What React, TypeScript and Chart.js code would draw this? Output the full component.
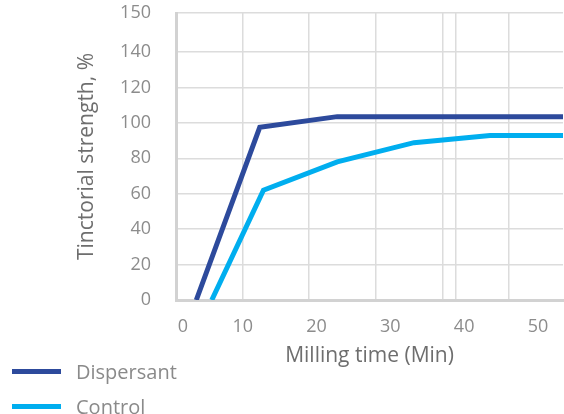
import React, { useEffect, useRef } from "react";
import { Chart, registerables } from "chart.js";

Chart.register(...registerables);

// ---- data ----
const DISPERSANT_X = [3.7, 12.3, 22.8, 53.4];
const DISPERSANT_Y = [0, 97.5, 103.5, 103.5];
const CONTROL_X = [5.8, 12.8, 22.8, 33.2, 43.5, 53.4];
const CONTROL_Y = [0, 62, 78, 88.8, 92.8, 92.8];

const X_TICK_LABELS = ["0", "10", "20", "30", "40", "50"];
const X_TICK_VALUES = [1.9, 10, 20, 30, 40, 50];
const X_MIN = 0.95;
const X_MAX = 53.4;

const GRID_X_TICKS = [0, 10, 20, 30, 40, 42, 50];
const GRID_X_MAX = 58.1;

const Y_TICK_LABELS = ["0", "20", "40", "60", "80", "100", "120", "140", "150"];
const Y_MAX = 162;
const Y_TICK_VALUES = [0, 20, 40, 60, 80, 100, 120, 140, Y_MAX];

const SERIES_NAMES = ["Dispersant", "Control"];
const SERIES_COLORS = ["#2d4a9c", "#00aeef"];

const FONT = "'Open Sans', 'Noto Sans', sans-serif";
const TICK_COLOR = "#8c8c8c";
const TITLE_COLOR = "#6e6e6e";
const GRID_COLOR = "#dcdcdc";
const BORDER_COLOR = "#d2d2d2";

export default function App() {
  const canvasRef = useRef<HTMLCanvasElement | null>(null);

  useEffect(() => {
    if (!canvasRef.current) return;
    const toPts = (xs: number[], ys: number[]) => xs.map((x, i) => ({ x, y: ys[i] }));
    const chart = new Chart(canvasRef.current, {
      type: "line",
      data: {
        datasets: [
          {
            label: SERIES_NAMES[0],
            data: toPts(DISPERSANT_X, DISPERSANT_Y),
            borderColor: SERIES_COLORS[0],
            backgroundColor: SERIES_COLORS[0],
            borderWidth: 5,
            pointRadius: 0,
            tension: 0,
            xAxisID: "x",
          },
          {
            label: SERIES_NAMES[1],
            data: toPts(CONTROL_X, CONTROL_Y),
            borderColor: SERIES_COLORS[1],
            backgroundColor: SERIES_COLORS[1],
            borderWidth: 5,
            pointRadius: 0,
            tension: 0,
            xAxisID: "x",
          },
        ],
      },
      options: {
        animation: false,
        responsive: true,
        maintainAspectRatio: false,
        layout: { padding: { left: 60, top: 13, right: 0, bottom: 45.4 } },
        plugins: {
          legend: { display: false },
          tooltip: { enabled: false },
        },
        scales: {
          xg: {
            type: "linear",
            position: "bottom",
            min: 0,
            max: GRID_X_MAX,
            afterBuildTicks: (scale: any) => {
              scale.ticks = GRID_X_TICKS.map((v) => ({ value: v }));
            },
            grid: { display: true, color: GRID_COLOR, lineWidth: 1.5, drawTicks: false },
            border: { display: false },
            ticks: { display: false },
          },
          x: {
            type: "linear",
            position: "bottom",
            min: X_MIN,
            max: X_MAX,
            afterBuildTicks: (scale: any) => {
              scale.ticks = X_TICK_VALUES.map((v) => ({ value: v }));
            },
            grid: { display: false, drawTicks: false },
            border: { display: true, color: BORDER_COLOR, width: 3 },
            ticks: {
              padding: 15.7,
              color: TICK_COLOR,
              font: { family: FONT, size: 18 },
              maxRotation: 0,
              autoSkip: false,
              callback: (_v: any, i: number) => X_TICK_LABELS[i],
            },
            title: {
              display: true,
              text: "Milling time (Min)",
              color: TITLE_COLOR,
              font: { family: FONT, size: 21 },
              padding: { top: -9.6, bottom: 0 },
            },
          },
          y: {
            type: "linear",
            position: "left",
            min: 0,
            max: Y_MAX,
            afterBuildTicks: (scale: any) => {
              scale.ticks = Y_TICK_VALUES.map((v) => ({ value: v }));
            },
            afterFit: (scale: any) => {
              scale.width = 116;
            },
            grid: {
              display: true,
              color: GRID_COLOR,
              lineWidth: 1.5,
              drawTicks: true,
              tickLength: 25,
              tickColor: "rgba(0,0,0,0)",
            },
            border: { display: true, color: BORDER_COLOR, width: 3 },
            ticks: {
              padding: 0,
              color: TICK_COLOR,
              font: { family: FONT, size: 18 },
              autoSkip: false,
              callback: (_v: any, i: number) => Y_TICK_LABELS[i],
            },
            title: {
              display: true,
              text: "Tinctorial strength, %",
              color: TITLE_COLOR,
              font: { family: FONT, size: 21 },
              padding: { top: 14, bottom: 0 },
            },
          },
        },
      },
    });
    return () => chart.destroy();
  }, []);

  return (
    <div style={{ position: "fixed", left: 0, top: 0, width: 564, height: 414, overflow: "hidden", background: "#fff" }}>
      <div style={{ position: "absolute", left: 0, top: 0, width: 564, height: 414 }}>
        <canvas ref={canvasRef} />
      </div>
      <div style={{ position: "absolute", left: 12, top: 354, fontFamily: FONT, fontSize: 20, color: "#8a8a8a" }}>
        {SERIES_NAMES.map((name, i) => (
          <div key={name} style={{ display: "flex", alignItems: "center", height: 35 }}>
            <div style={{ width: 49, height: 5, background: SERIES_COLORS[i], marginRight: 15 }} />
            <span style={{ lineHeight: "24px" }}>{name}</span>
          </div>
        ))}
      </div>
    </div>
  );
}
